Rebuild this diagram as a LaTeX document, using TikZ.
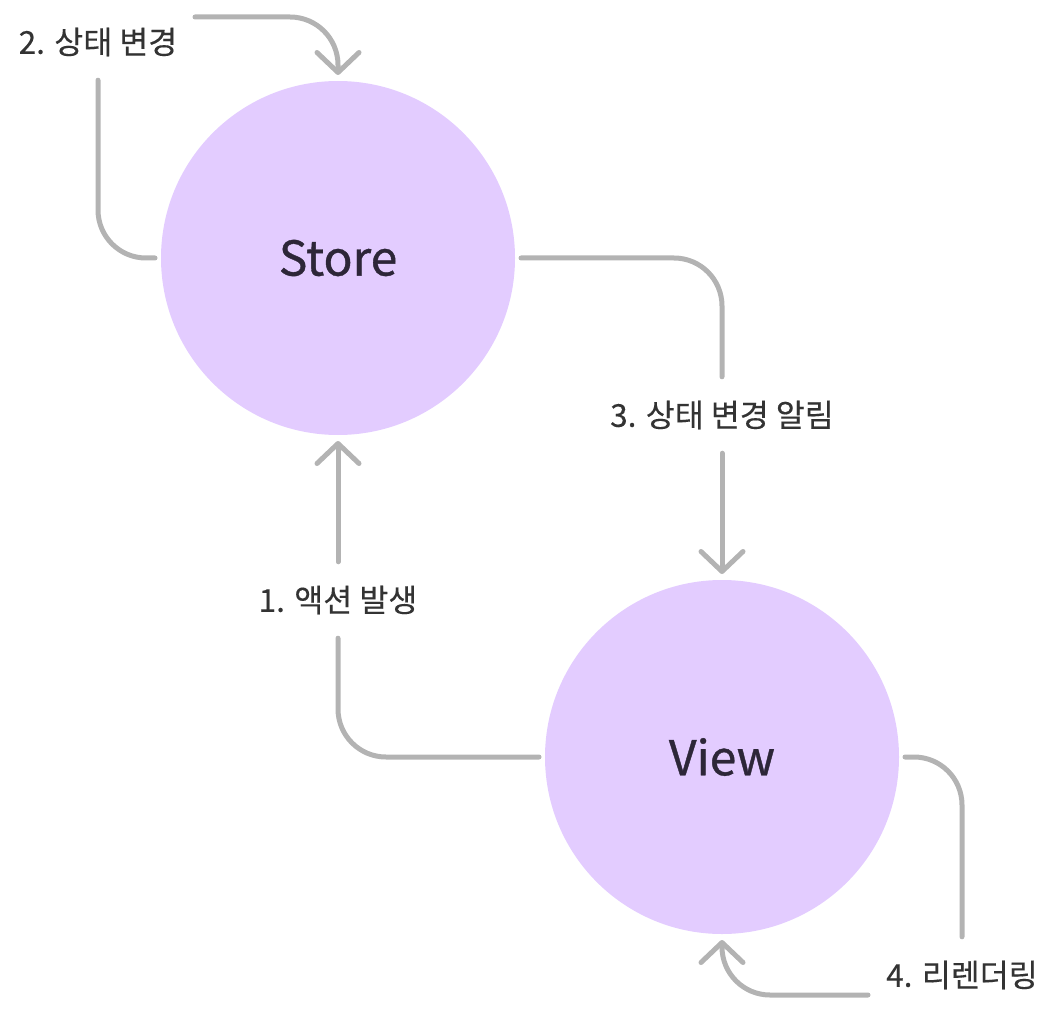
\documentclass[tikz,border=0pt]{standalone}
\usepackage{fontspec}
\setmainfont{Noto Sans CJK KR}
\newfontfamily\statefont[FakeBold=0.8]{Noto Sans CJK KR}
\newfontfamily\lblfont[FakeBold=0.3]{Noto Sans CJK KR}
\usetikzlibrary{arrows.meta}
\definecolor{circfill}{HTML}{E3CCFF}
\definecolor{conncol}{HTML}{B3B3B3}
\definecolor{nodetext}{HTML}{2D2638}
\definecolor{labeltext}{HTML}{333333}
\begin{document}
\begin{tikzpicture}[x=1pt,y=-1pt,
  state/.style={circle, fill=circfill, minimum size=354pt, inner sep=0pt, outer sep=6pt,
    text=nodetext, font=\statefont\fontsize{48}{56}\selectfont},
  lbl/.style={minimum height=76pt, inner xsep=20pt, inner ysep=0pt,
    text=labeltext, font=\lblfont\fontsize{31.5}{36}\selectfont},
  conn/.style={draw=conncol, line width=5pt, line cap=round, line join=round, rounded corners=48pt},
  tip/.style={-{Straight Barb[length=20pt,width=42pt,round]}}
]
\useasboundingbox (0,0) rectangle (1054,1016);
\node[state] (store) at (338,258) {Store};
\node[state] (view) at (722,757) {View};
\node[lbl] (l1) at (338,600) {1. 액션 발생};
\node[lbl] (l2) at (98,42) {2. 상태 변경};
\node[lbl] (l3) at (722,415) {3. 상태 변경 알림};
\node[lbl] (l4) at (962,975) {4. 리렌더링};
\coordinate (c2) at (195,17);
\coordinate (c4) at (868,995);
% 1
\draw[conn] (view.west) -| (l1.south);
\draw[conn,tip] (l1.north) -- (store.south);
% 2
\draw[conn] (store.west) -| (l2.south);
\draw[conn,tip] (c2) -| (store.north);
% 3
\draw[conn] (store.east) -| (l3.north);
\draw[conn,tip] (l3.south) -- (view.north);
% 4
\draw[conn] (view.east) -| (l4.north);
\draw[conn,tip] (c4) -| (view.south);
\end{tikzpicture}
\end{document}
